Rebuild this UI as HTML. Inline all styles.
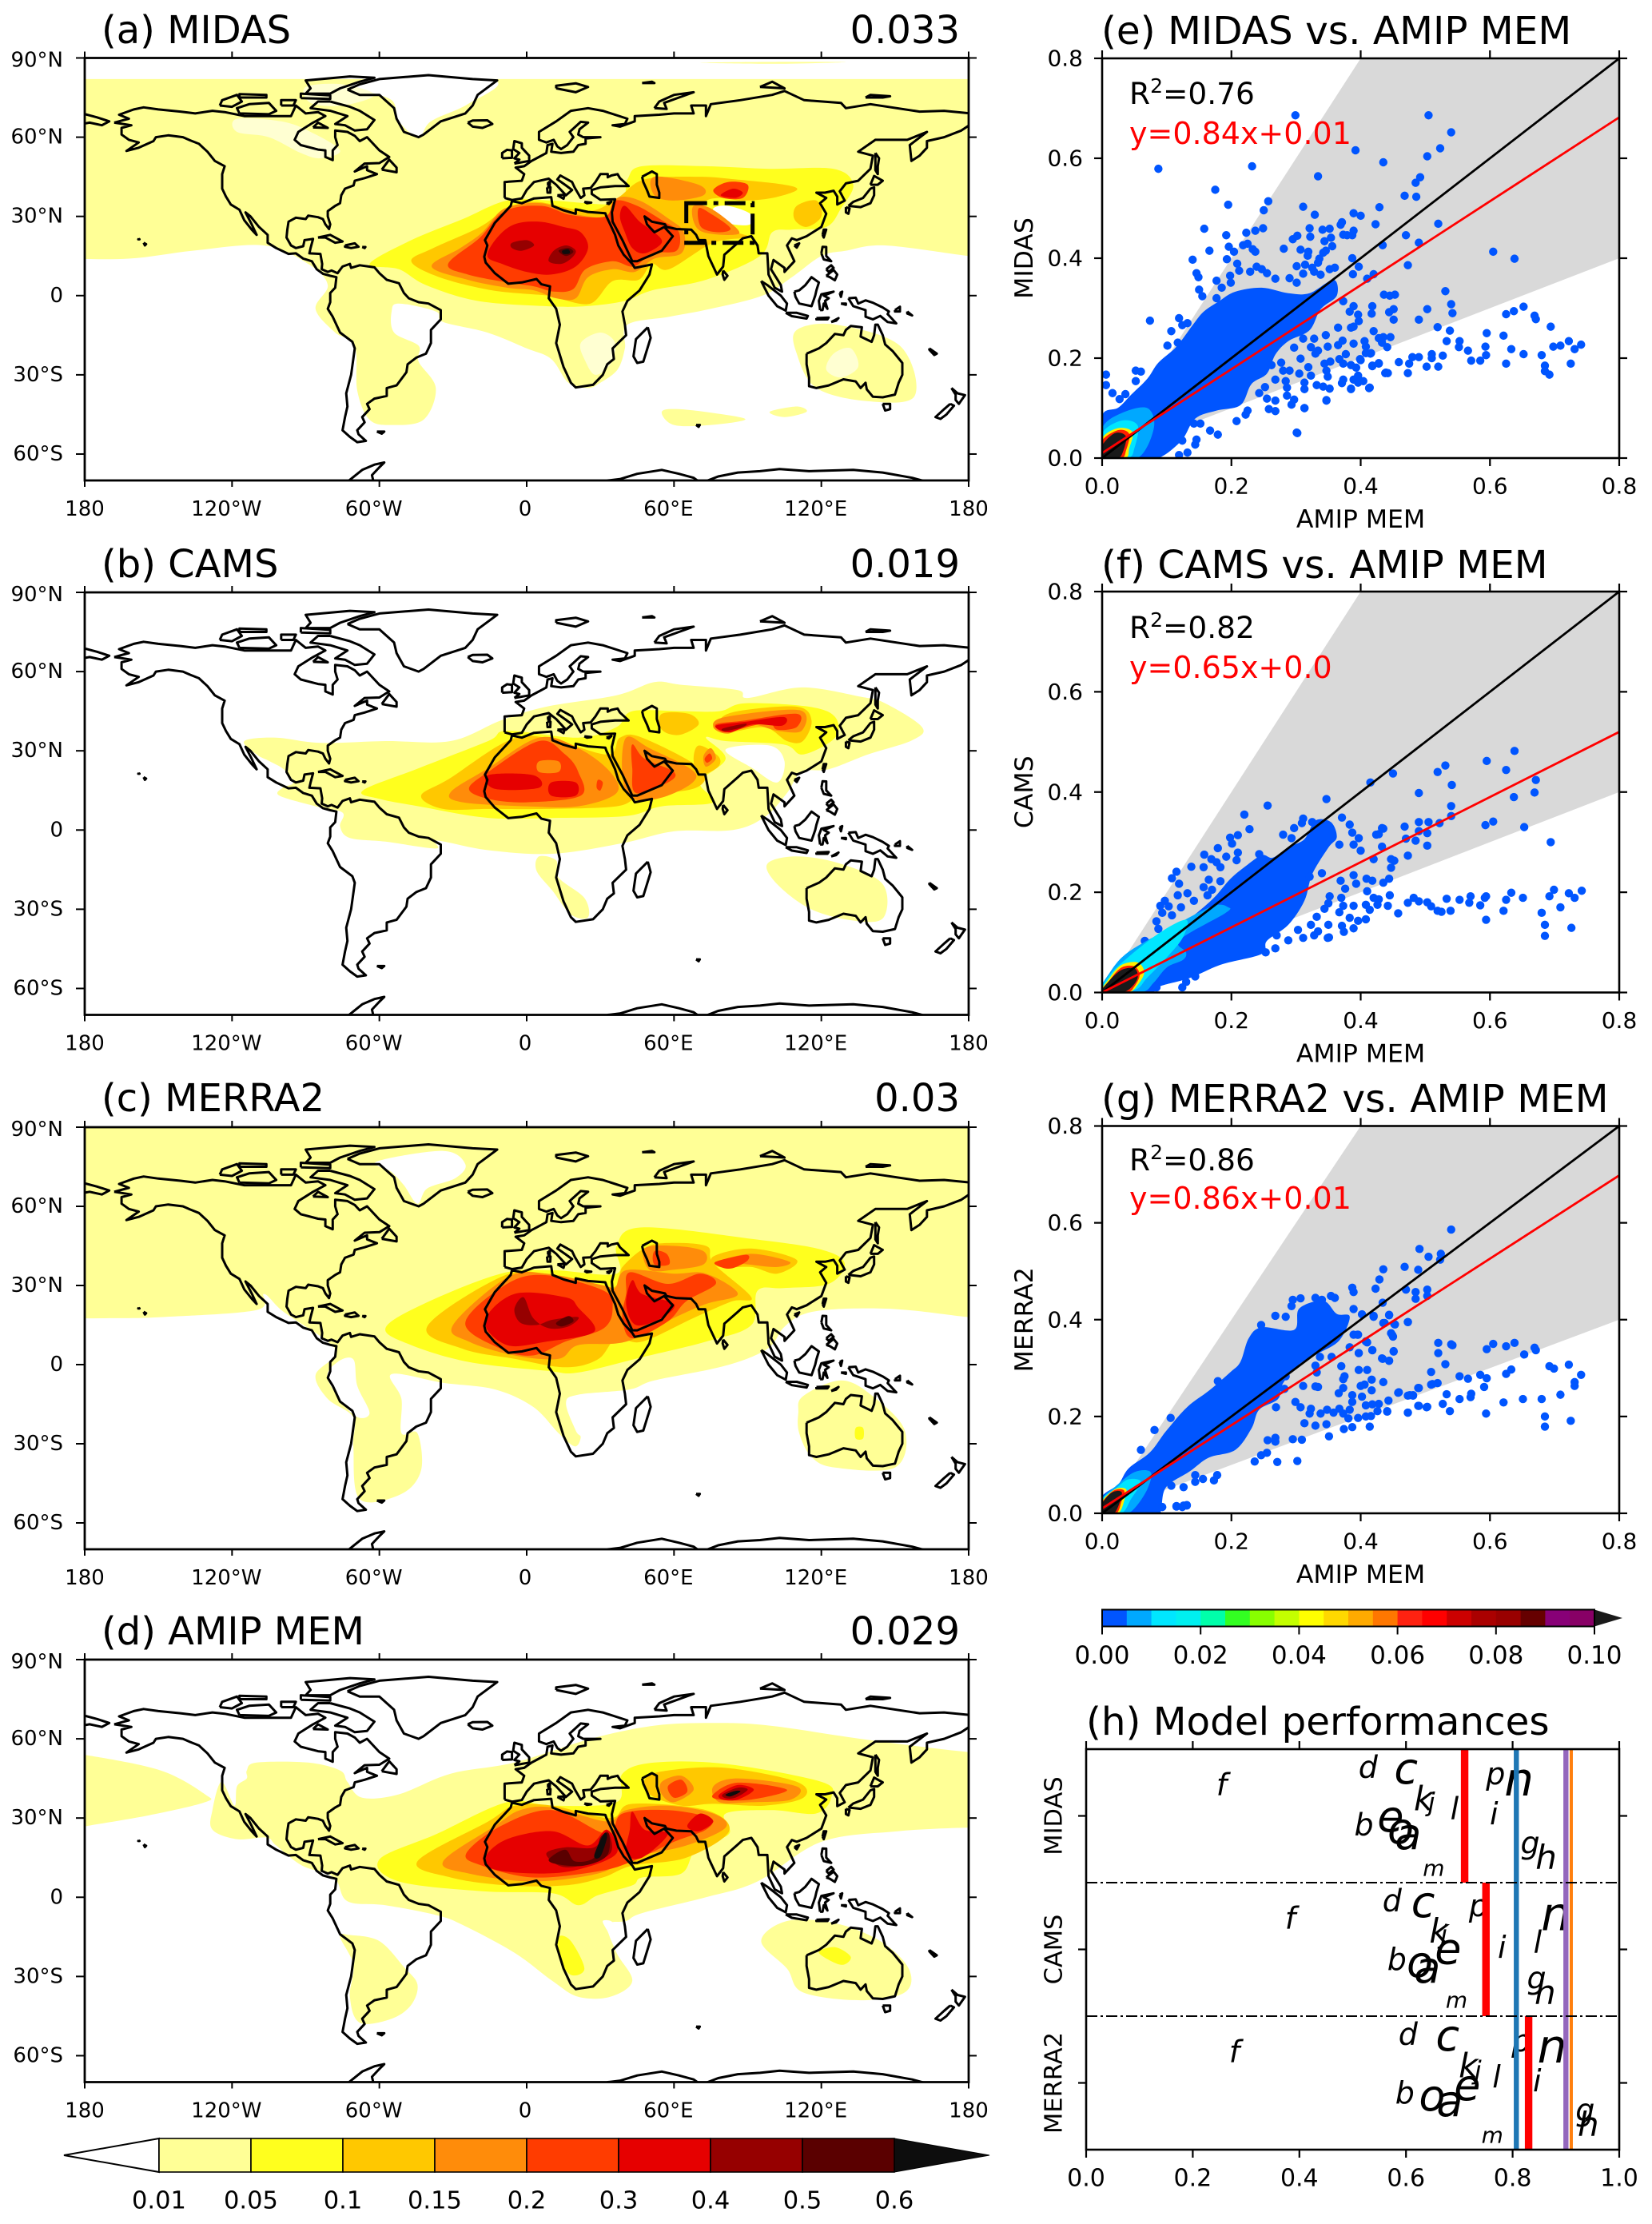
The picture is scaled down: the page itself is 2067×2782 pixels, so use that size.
<!DOCTYPE html>
<html lang="en">
<head>
<meta charset="utf-8">
<title>Dust optical depth maps and comparisons</title>
<style>
html,body{margin:0;padding:0;background:#fff}
svg{display:block}
text{font-family:"DejaVu Sans","Liberation Sans",sans-serif;fill:#000}
</style>
</head>
<body>
<svg id="fig" xmlns="http://www.w3.org/2000/svg" width="2067" height="2782" viewBox="0 0 2067 2782">
<defs id="defs"></defs>
<rect width="2067" height="2782" fill="#fff"/>
<g id="map-a"></g>
<g id="map-b"></g>
<g id="map-c"></g>
<g id="map-d"></g>
<g id="sc-e"></g>
<g id="sc-f"></g>
<g id="sc-g"></g>
<g id="cbar-main"></g>
<g id="cbar-den"></g>
<g id="perf"></g>

<text x="127" y="54" font-size="48">(a) MIDAS</text>
<text x="1201" y="54" font-size="48" text-anchor="end">0.033</text>
<text x="127" y="722" font-size="48">(b) CAMS</text>
<text x="1201" y="722" font-size="48" text-anchor="end">0.019</text>
<text x="127" y="1390" font-size="48">(c) MERRA2</text>
<text x="1201" y="1390" font-size="48" text-anchor="end">0.03</text>
<text x="127" y="2057" font-size="48">(d) AMIP MEM</text>
<text x="1201" y="2057" font-size="48" text-anchor="end">0.029</text>

<text x="1378" y="55" font-size="48.5">(e) MIDAS vs. AMIP MEM</text>
<text x="1378" y="723" font-size="48.5">(f) CAMS vs. AMIP MEM</text>
<text x="1378" y="1391" font-size="48.5">(g) MERRA2 vs. AMIP MEM</text>
<text x="1359" y="2170" font-size="48.4">(h) Model performances</text>

<text x="1413" y="130" font-size="37.5">R<tspan font-size="25" dy="-14">2</tspan><tspan dy="14">=0.76</tspan></text>
<text x="1413" y="180" font-size="38" style="fill:#ff0000">y=0.84x+0.01</text>
<text x="1413" y="798" font-size="37.5">R<tspan font-size="25" dy="-14">2</tspan><tspan dy="14">=0.82</tspan></text>
<text x="1413" y="848" font-size="38" style="fill:#ff0000">y=0.65x+0.0</text>
<text x="1413" y="1464" font-size="37.5">R<tspan font-size="25" dy="-14">2</tspan><tspan dy="14">=0.86</tspan></text>
<text x="1413" y="1512" font-size="38" style="fill:#ff0000">y=0.86x+0.01</text>
</svg>

<script>
/* ---------- shared map data (lon, lat) ---------- */
const levelColors = ['#ffff96','#ffff1e','#ffc800','#ff8c0a','#ff3c00','#e60000','#960000','#5a0000','#0d0d0d'];
const levelLabels = ['0.01','0.05','0.1','0.15','0.2','0.3','0.4','0.5','0.6'];
const lonTicks = [-180,-120,-60,0,60,120,180];
const lonTickLabels = ['180','120°W','60°W','0','60°E','120°E','180'];
const latTicks = [90,60,30,0,-30,-60];
const latTickLabels = ['90°N','60°N','30°N','0','30°S','60°S'];

const coastlines = [
/* Americas */
[[-168,65.5],[-164,66.5],[-162,67],[-166,68.5],[-160,70.5],[-156,71.3],[-150,70.5],[-141,69.7],[-135,69],[-128,70],[-123,69.5],[-115,68],[-108,68],[-100,68],[-96,68],[-94,72],[-90,69],[-85,69.5],[-82,68],[-87,65.5],[-93,62],[-94.5,59],[-92,57],[-85,55.3],[-82,55],[-82,52.5],[-79,51.3],[-79,55],[-77,57],[-78,60],[-78,62.5],[-73,62],[-70,60.5],[-68,58.5],[-65,60],[-62,57],[-60,55],[-56,52.5],[-60,50.2],[-66,50],[-70,47],[-65,49],[-65,47.5],[-61,46],[-66,44.5],[-70,43.5],[-70.5,41.7],[-74,40.5],[-75.5,38],[-76,35],[-78,34],[-81,32],[-81,30],[-80,27],[-80.5,25.2],[-82,27],[-83,29],[-85,29.7],[-89,30.3],[-90,29],[-94,29.5],[-97,28],[-97.5,25],[-97.8,22],[-96,19],[-94,18],[-91,18.7],[-90.5,21],[-87,21.5],[-88,18],[-88.5,16],[-84,15.8],[-83.3,12],[-83.5,10],[-81,9],[-79.5,9.5],[-77,8.5],[-75,11],[-72,12],[-71.5,10.5],[-68,11.5],[-62,10.7],[-60,8.5],[-57,6],[-52,4.7],[-50,1],[-48,-1],[-44,-2.5],[-40,-3],[-35,-5.5],[-35,-9],[-39,-13],[-39,-18],[-41,-22],[-45,-23.5],[-48.5,-26],[-49,-29],[-53,-34],[-57,-35],[-57,-38],[-62,-39],[-65,-41],[-64,-43],[-67,-46],[-66,-48],[-69,-51],[-68.5,-52.5],[-65.5,-55],[-69,-55.5],[-72,-53.5],[-75,-51],[-74,-46],[-73,-42],[-73.5,-37],[-71.5,-30],[-70,-20],[-71,-17.5],[-76,-14],[-79,-8],[-81,-5],[-80,-2.5],[-80,1],[-78,3],[-77.5,7],[-80,7.5],[-83,8.3],[-85.5,10],[-87.5,13],[-91,14],[-94,16],[-97,15.8],[-102,18],[-105.5,20],[-105.5,23],[-109,26],[-112.5,30],[-114.5,31.5],[-112,27],[-110,23],[-112,25],[-115,28.5],[-117,32.5],[-120.5,34.5],[-122.5,37.5],[-124,40.5],[-124,46],[-123,49],[-127,51],[-130,54.5],[-133.5,57.5],[-137,58.8],[-140,60],[-146,60.7],[-151,60],[-152,58.5],[-158,56],[-163,54.8],[-158,58],[-162,59],[-165,61],[-165,63.5],[-161,64.5],[-168,65.5]],
/* Africa */
[[-6,35.8],[-2,35],[3,36.8],[10,37.3],[10.5,34],[15,32.3],[20,31],[20,32.7],[25,31.7],[32,31.2],[32.5,30],[34,27],[36,23],[37.3,19],[39.5,15.5],[43,12],[44,10.5],[51,11.8],[50,8],[46,2],[41,-2],[39,-6],[40,-11],[40.5,-15],[35,-20],[35.5,-24],[32.8,-26],[31,-30],[27,-33.8],[20,-34.8],[18,-33],[15,-27],[12,-18],[13.5,-11],[12,-5],[9,-1],[9.5,3.5],[6,4.3],[4,6.3],[-2,5],[-7.5,4.5],[-13,8.5],[-16.7,12.5],[-17.3,14.7],[-16,19],[-17,21],[-13,27.5],[-9.5,31],[-6.5,34],[-6,35.8]],
/* Eurasia */
[[-9,37],[-9,43],[-2,43.5],[-1,46],[-4.5,48.5],[-1,49],[2,51],[4,52],[8,54],[8.5,57],[10.5,57.5],[10,54.5],[14,54],[19,54.5],[21,57],[24,57.5],[24,59.5],[30,60],[23,60],[21,61],[21.5,63],[25,65.5],[22,65.8],[17.5,62],[19,60],[16.5,57],[14,55.5],[12.5,56.5],[11,59],[8,58],[5,59],[5,62],[12,66],[18,70],[25,71],[31,70],[41,67],[40,65],[35,64.5],[38,64],[44,66],[44,68],[54,68.5],[60,69],[68,69],[67,72],[73,72],[73,68],[75,72.5],[87,74],[100,76],[105,77.5],[113,74],[128,73],[130,71],[140,72.5],[160,69.7],[170,70],[181,69]],
[[-181,69],[-175,67.5],[-170,66],[-173,64.5],[-178,65.5],[-181,65]],
[[181,65],[177,62.5],[170,60],[163,58.5],[163,56],[160,53],[156.7,51],[156,57],[163,62],[155,59],[142,59],[135,54.5],[141,53],[140,48],[135,43.5],[130,42.5],[127.5,39.5],[129.5,36],[126.5,34.5],[126.5,37.5],[125,39.7],[121.5,39],[118,39],[122,37],[119.5,35],[122,31],[120,26],[114,22.5],[110,21],[108,21.7],[106,19],[109,13],[105,9],[105,10.5],[100.5,13.5],[99.5,10],[103.5,4],[104,1.5],[101,3],[98.5,8],[98,16],[94.5,16],[94,19],[91.5,22.5],[88,21.7],[86,20],[80.5,15.5],[80,11],[77.5,8],[74,15],[72.7,21],[70,21],[69,23],[67,25],[61,25.2],[57,26],[56.3,27],[51,28],[48,30],[49,27],[51,25],[52,24],[56,26],[59.5,22.5],[55,17],[45,13],[43,13],[39,21],[35,28],[34.7,31.5],[36,36.5],[30,36.3],[26.5,38.5],[26.5,40],[30,41],[36,41.5],[41.5,41.5],[38,44.5],[37,46],[34.5,45.5],[33,44.8],[33,46],[30,46],[28,43],[26,40.7],[23,40.5],[23.5,38],[22,37],[19.5,41],[18.5,43],[13.7,45.5],[12.5,44],[16,41.7],[18.5,40],[16,38],[12,42],[9,44.3],[3,43],[0,40],[-2,36.8],[-6,36.2],[-9,37]],
/* islands, inland seas */
[[-80,73.5],[-72,71.5],[-68,70],[-62,66.5],[-65,63],[-70,62.5],[-74,64.5],[-78,65],[-73,68],[-80,70],[-88,71],[-85,73.5],[-80,73.5]],
[[-117,69],[-105,68.7],[-102,70],[-105,73],[-113,72.5],[-118,71],[-117,69]],
[[-125,72],[-120,71.5],[-116,73.5],[-118,76],[-124,74],[-125,72]],
[[-90,76.5],[-80,76.5],[-76,78.5],[-68,81],[-62,82.5],[-72,83],[-90,81.5],[-88,78.5],[-90,76.5]],
[[-92,74.8],[-80,74.5],[-80,75.8],[-92,76.5],[-92,74.8]],
[[-117,75],[-106,75],[-106,76],[-117,76.3],[-117,75]],
[[-100,72],[-95,72],[-94,74],[-100,74],[-100,72]],
[[-87,63.7],[-81,63.5],[-85,65.5],[-87,63.7]],
[[-59,47.7],[-53,46.7],[-53,48.5],[-56,51.5],[-59,47.7]],
[[-73,78],[-68,80],[-60,82],[-40,83.5],[-22,82],[-12,81.5],[-20,76],[-22,72],[-25,69],[-35,66],[-42,61],[-44,60],[-50,62],[-53,67],[-54,71],[-60,76],[-68,76],[-73,78]],
[[-24,65.5],[-22,64],[-18,63.5],[-14,65],[-16,66.4],[-22,66.3],[-24,65.5]],
[[-5,50],[1,51],[1,53],[-2,56],[-2,57.7],[-5,58.5],[-5.5,55.5],[-3,54],[-5,52],[-3,51.5],[-5,50]],
[[-10,52],[-6,52.2],[-6,55],[-8,55.2],[-10,54],[-10,52]],
[[12,78.5],[20,77],[25,79],[20,80.4],[12,79.5],[12,78.5]],
[[52,71],[57,70.7],[56,73],[62,75],[68,77],[60,76],[54,73.5],[52,71]],
[[95,79],[105,78.5],[100,81],[95,79]],
[[138,75],[145,75],[148,75.5],[140,76],[138,75]],
[[47,80.5],[52,80.5],[51,81],[47,80.5]],
[[142,54],[143.5,52],[143,49],[143,46],[142,47.5],[142,54]],
[[140,42],[141.5,45.3],[145,43.5],[143,42],[140,42]],
[[131,34],[136,33.5],[140,35],[141.5,38],[141.5,41],[140,40.5],[137,37],[133,35.5],[131,34]],
[[130,33.5],[131.5,33],[131,31],[130,31.5],[130,33.5]],
[[120.5,23],[121,25],[122,25],[121,22],[120.5,23]],
[[109,19],[111,19.8],[110,18.2],[109,19]],
[[120,16],[120.5,18.5],[122,18.4],[122,15],[124,13],[121,13.7],[120,16]],
[[122,7.5],[125,9.7],[126.5,8],[125.5,5.8],[123.5,7],[122,7.5]],
[[122,10],[124,11.5],[125,10.5],[123,9],[122,10]],
[[109,1.5],[111,2],[113.5,4],[116,7],[119,5],[118,2],[117.5,0],[116,-4],[111,-3],[109.5,-0.5],[109,1.5]],
[[95.5,5.5],[98,4],[103.5,0],[106,-3],[105.5,-5.7],[102,-4],[98.5,0],[95.5,5.5]],
[[105.5,-6.5],[110,-6.5],[114.5,-7.7],[114,-8.7],[108,-7.8],[105.5,-6.5]],
[[119.5,-5.5],[119,-2],[120,0.5],[125,1.5],[121,0],[123,-1],[121.5,-2],[122.5,-5],[121,-3],[120.5,-5.5],[119.5,-5.5]],
[[118,-8.5],[123,-8.3],[122.5,-9],[118,-9],[118,-8.5]],
[[124,-10],[127,-8.5],[126,-9.5],[124,-10]],
[[127.5,1],[128.5,1.5],[128,-0.5],[127.5,1]],
[[128,-3],[130,-3],[130,-3.5],[128,-3]],
[[131,-1],[134,-0.8],[135,-3],[138,-1.8],[141,-2.7],[145,-4.5],[147.5,-6],[147,-7],[150.5,-10.5],[147,-10],[144,-7.7],[141,-9],[138,-8],[138,-5.5],[133,-4],[132,-2.5],[131,-1]],
[[114,-22],[114,-26],[115,-31],[115,-34.3],[118,-35],[123,-34],[129,-31.7],[134,-32.5],[136,-35],[138,-33],[138.5,-35.5],[141,-38.3],[145,-38.5],[150,-37.5],[151.5,-33],[153,-30],[153,-25.5],[149,-21],[146,-18.5],[145,-15],[143,-11],[142,-11],[141.5,-15],[140.5,-17.5],[136,-15.5],[136.5,-12],[132,-11.5],[130,-13],[129,-15],[125.5,-14.5],[122,-18],[119,-20],[114,-22]],
[[145,-41],[148,-41],[148,-43],[146,-43.5],[145,-41]],
[[173,-35],[175.5,-37],[178.5,-37.7],[176,-41],[174.7,-39.5],[174.7,-37.5],[173,-35]],
[[172.5,-41],[174,-41.7],[171,-45],[168.5,-46.7],[166.5,-46],[170,-43],[172.5,-41]],
[[164,-20],[167,-22],[166,-22.5],[164,-20.5],[164,-20]],
[[150,-5.5],[152,-4.2],[152,-6],[150,-6],[150,-5.5]],
[[155,-6],[157,-7.5],[155,-6.8],[155,-6]],
[[80,9.5],[81.8,7.5],[80.5,6],[79.8,8],[80,9.5]],
[[49.3,-12],[50.5,-16],[47.5,-25],[45,-25.5],[43.5,-23],[44.5,-16.5],[49.3,-12]],
[[-156,20],[-155,19.5],[-155.5,19],[-156,20]],
[[-158,21.6],[-157.7,21.3],[-158.2,21.3],[-158,21.6]],
[[-85,22],[-80,23],[-75,20.5],[-78,20],[-82,22],[-85,22]],
[[-74,19],[-70,19.8],[-68.5,18.5],[-71.5,18],[-74,18.5],[-74,19]],
[[-67,18.4],[-65.7,18.4],[-66,18],[-67,18.4]],
[[-61,-51.5],[-58,-51.5],[-59,-52.3],[-61,-51.5]],
[[69,-49],[70.5,-49],[70,-49.7],[69,-49]],
[[12.5,38],[15.5,38.2],[15,36.7],[12.5,38]],
[[8.3,41],[9.7,41],[9.6,39],[8.5,39],[8.3,41]],
[[8.7,43],[9.5,43],[9.3,41.4],[8.7,42],[8.7,43]],
[[23.5,35.5],[26.3,35.2],[24.5,35],[23.5,35.5]],
[[32.5,35],[34.5,35.6],[33.5,34.7],[32.5,35]],
[[47,45],[51,47],[53,46],[53,42],[54,39],[54,37],[50,37.5],[49,40],[47.5,43],[47,45]],
[[-75,-72],[-71,-69],[-67,-66],[-62,-64],[-58,-63.2],[-60,-65],[-63,-68],[-62,-72]],
[[30,-72],[33,-70],[38,-69.5],[45,-67.5],[55,-66],[62,-67.5],[68,-69],[71,-71],[78,-68.5],[86,-67],[95,-66.5],[103,-65.7],[115,-66.5],[133,-66],[145,-67],[157,-69],[165,-71]]
];

/* contour bands: [level index, ring of lon/lat]; -1 is a gap, -2 a speckled gap */
const fieldMidas = [
[0,[[-200,82],[-190,82],[-60,82],[0,82],[60,82],[190,82],[200,82],[200,76],[200,20],[200,14.5],[190,14.8],[180,15],[146,19],[130,17],[120,15],[108,7],[96,0],[75,-5],[58,-8],[41,-11],[40,-20],[37,-28],[30,-33],[25,-35],[17,-33],[10,-24],[0,-20],[-16,-14],[-34,-10],[-37,-6],[-52,-3],[-55,-6],[-54,-14],[-44,-19],[-44,-25],[-37,-35],[-42,-47],[-55,-49],[-64,-47],[-69,-36],[-70,-19],[-78,-14],[-86,-5],[-81,4],[-89,12],[-107,19],[-136,17],[-162,14],[-190,14],[-200,14],[-200,20],[-200,76]]],
[0,[[110,-13],[126,-11],[152,-19],[158,-38],[139,-40],[118,-35],[110,-22]]],
[0,[[55,-44],[62,-43],[80,-45],[89,-47],[75,-49],[60,-49]]],
[0,[[99,-44],[110,-42],[114,-44],[105,-46]]],
[0,[[70,88.2],[100,88.5],[130,88.4],[100,87.8]]],
[-1,[[-72,80],[-58,82.4],[-13,81.4],[-24,72.5],[-39,66],[-44,60],[-52,66],[-55,74],[-68,78]]],
[-2,[[-118,67],[-100,66],[-88,62],[-76,55],[-84,52],[-92,54],[-105,60],[-118,62]]],
[-2,[[-90,79],[-75,80],[-62,76],[-75,72],[-88,73]]],
[-2,[[22,-18],[30,-14],[36,-18],[34,-26],[28,-30],[24,-25]]],
[-2,[[125,-22],[132,-20],[135,-27],[128,-31],[122,-28]]],
[1,[[-64,12],[-47,21],[-26,29],[-8,36],[10,36],[37,35],[41,44],[47,49],[73,49],[99,48],[125,48],[133,42],[128,33],[122,26],[108,25],[100,24],[95,15],[73,6],[51,2],[40,-2],[24,-4],[8,-4],[-20,-2],[-41,4],[-52,10]]],
[2,[[-47,13],[-38,18],[-19,26],[-8,33],[4,35.5],[25,32],[37,37],[48,44],[70,45],[85,44],[105,42],[110,40],[100,37],[88,36],[78,37],[72,35],[70,28],[85,24],[90,22],[76,20],[58,10],[51,12],[45.6,6],[35,5.5],[26,-3],[13,-1],[9,0],[-14,2],[-35.6,7]]],
[2,[[110,34],[118,36],[120,30],[114,26],[109,29]]],
[-1,[[76,33],[82,34],[91,31],[91,27],[84,27],[78,29]]],
[3,[[-38.7,11],[-27,18],[-18,24],[-9,33],[6,35],[19,31],[32,30],[37,37],[46,36],[58,29],[64,24],[63,16],[52,14],[44,9],[35,10],[25,7],[20,-1],[12,-1],[3,2],[-8,3],[-24,6]]],
[3,[[68,34],[75,33],[86,25],[84,23],[72,24],[68,28]]],
[3,[[52,45],[70,42],[72,38],[60,36],[52,38]]],
[4,[[-32,12],[-19,22],[-9,32],[6,34],[18,30.5],[32,30],[36,36],[45,34],[56,28],[62,24],[61,17],[51,16],[43.6,11],[35,13],[24,10],[19,2.5],[11,1.5],[3,3.5],[-8,5],[-24,8]]],
[4,[[70,33],[75,31],[83,25.5],[78,24],[71,26]]],
[4,[[76,40],[82,43],[90,42],[88,37],[80,37]]],
[5,[[-12,22],[-5,27],[5,28],[15,26],[22,24],[25,18],[20,11],[10,8],[0,9],[-10,12],[-16,15]]],
[5,[[40,34],[46,28],[52,24],[55,20],[48,16],[43,18],[40,24],[38,30]]],
[5,[[79,38],[84,40.5],[88,39],[85,37]]],
[6,[[-6,20],[0,21],[3,19],[-2,17],[-6,18]]],
[6,[[11,17],[16,19],[20,17],[18,14],[14,12],[9,13]]],
[7,[[13,17],[17,18],[19,16.5],[16,15]]],
[8,[[14.5,17],[17,17.5],[17.5,16],[15,15.8]]]
];
const fieldCams = [
[0,[[-115,33.7],[-102,35],[-84,33],[-57.5,33.7],[-31,33.7],[-10.5,41.5],[8,46.7],[36.6,51],[52,56],[63,55],[86,53],[90,50],[112,54],[136,50.5],[146,48],[161,39],[157,34],[139,28.6],[123,23],[112,22],[106,14],[97,5],[84,0],[60,-0.5],[39,-5],[10.5,-9],[-16,-7.6],[-36.6,-4],[-37,-7],[-57.5,-4.4],[-72,-3],[-76,1.4],[-75,6.6],[-86,9],[-100.7,13],[-99.4,16],[-95,18],[-99,23],[-104.6,26],[-110,28.6]]],
[0,[[98,-12.8],[110,-10],[128,-12.8],[145,-20.5],[145,-33.5],[131,-34],[115,-29.6],[102,-20.5]]],
[0,[[5,-10],[12,-11.5],[13,-18],[23.5,-25.7],[25,-33],[18,-32],[10.5,-23],[4,-15.4]]],
[-1,[[81,30.5],[99,32],[105,26],[102,18],[92,23.4]]],
[1,[[-66.7,15],[-44,23.4],[-15.7,33.7],[-7.8,37.6],[21,35],[36.6,39],[43,45],[63,45],[78.5,45],[89,48],[115,46.7],[125.6,42.8],[125.6,35],[112.5,28.6],[104.6,32.4],[81,33.7],[73,35],[81,27],[70.6,18],[76,10.5],[55,9],[40.5,5.3],[10.5,4.6],[-15.7,4.6],[-44,9],[-60,11.8]]],
[2,[[-43,13],[-31.4,19.5],[-7.8,33.7],[8,35],[32.7,28.6],[38,35],[47,35],[70.6,23.4],[69,16],[47,13],[36.6,9],[8,8],[-15.7,8],[-34,8]]],
[2,[[78.5,41.5],[86,45],[110,46.7],[116,41.5],[112.5,33.7],[106,33.7],[96.8,38.9],[81,37]]],
[2,[[55,44],[66,44],[70,40],[62,36],[55,38]]],
[2,[[70,32],[78,28],[78,24],[71,21],[68,26]]],
[3,[[-31,14.3],[-15.7,23.4],[5,35],[21,31],[34,22],[36.6,14],[21,9],[0,9],[-26,10.5]]],
[3,[[40.5,35],[50,31],[69,21],[57.5,13],[43,11.8],[39,21]]],
[3,[[76,39],[81,42.8],[111,45.4],[112,37.6],[102,37.6],[91.5,40],[82,36.5]]],
[3,[[72,28],[75,31],[77,27],[73,24]]],
[4,[[-23.5,15.6],[-15.7,22],[5,33.7],[15.7,28.6],[21,22],[22,13],[0,10.5],[-15.7,11.8]]],
[4,[[43,32.4],[48,27],[60,22],[57.5,18],[44.5,14],[43,23.4]]],
[4,[[77,40],[89,41.5],[110,44],[110,39],[102,38],[99,40.8],[92,39.5],[81,37]]],
[4,[[72.5,27],[74.5,29],[75.5,27],[73.5,25.5]]],
[3,[[5,26],[13,26],[13,22],[5,22]]],
[4,[[29,19],[31,18],[30,15],[28.5,16]]],
[5,[[-15.7,20.8],[2.6,20.8],[5,16],[-13,15.6]]],
[5,[[10,18],[20,18],[20,13],[10,13]]],
[5,[[77,39.5],[89,41],[104.6,42.8],[104,39.5],[92,40],[82.4,37]]],
[6,[[80,38.5],[89,40.3],[88,39],[81,37.5]]]
];
const fieldMerra = [
[0,[[-200,100],[200,100],[200,24],[200,17.5],[190,17.8],[180,18],[151,21],[125.6,21],[112.5,19],[104.6,14],[98,6],[81,-0.4],[52,-6],[42,-9.4],[21,-11.4],[16,-14.6],[20,-25],[22,-27.5],[19.6,-31],[13,-26],[2.6,-16],[-13,-9.4],[-34,-6.9],[-55,-3.6],[-51,-13],[-51,-26],[-44.5,-26],[-43,-40],[-51,-49],[-68,-51],[-70.6,-31],[-70.6,-20],[-81,-13],[-86,-4],[-78,3.5],[-81,8.7],[-99,20],[-107,26.8],[-110,20.7],[-149,18],[-170,17.6],[-190,17.5],[-200,17.5],[-200,24]]],
[0,[[110.6,-18.5],[112.5,-12],[128,-6],[141,-12],[154,-25],[150,-39],[125.6,-39],[116,-35],[111,-26]]],
[-1,[[-61,77],[-34,81],[-25,76],[-29,70.7],[-40.5,66.8],[-44.5,61],[-50,68],[-55,73]]],
[-1,[[-77,1],[-70.6,2],[-69,-8],[-64,-18.5],[-70.6,-19],[-81,-5.5]]],
[1,[[134,-24],[137,-24],[137,-28],[134,-28]]],
[1,[[-57.5,13.8],[-42,23],[-10.5,34.5],[10.5,35.8],[36.6,34.5],[36.6,44.9],[47,52],[94,47.4],[120,43.6],[129.5,38.4],[123,30.6],[104.6,29],[94,28],[91.5,15],[73,8.7],[47,2.8],[21,-3],[8,-2.3],[-23.5,1],[-47,7.4]]],
[2,[[-40.5,14.5],[-10.5,33.2],[8,34.5],[34,29],[39,37],[47,43.6],[55,46],[73,45],[76,38.4],[91.5,25.5],[83.7,24],[68,17.7],[47,8.7],[36.6,10],[29,2],[15.7,-1],[-5,2.2],[-26,6]]],
[2,[[76,41],[91.5,44],[110,39.7],[102,34.5],[91.5,37],[78.5,37]]],
[3,[[-30,15],[-8,33],[8,34.5],[31.4,30],[36,29],[40.5,35.8],[60,34.5],[73,34.5],[86,26.8],[73,23],[60,17.7],[40.5,8.7],[21,7.4],[13,2.2],[-5,3.5],[-23.5,8.7]]],
[3,[[48,44],[60,45],[72,43],[72,38],[60,36],[50,36]]],
[3,[[79,39],[91.5,42],[107,39],[102,37],[90,38]]],
[4,[[-25,15.8],[-8,30.6],[8,33.9],[31.4,28],[35,21.6],[31.4,13.8],[15.7,8.7],[2.6,3.5],[-10.5,6]]],
[4,[[42,35],[57.5,30.6],[70.6,34.5],[77,30.6],[65,24],[57.5,16.4],[43,10],[39,17.7],[40.5,26.8]]],
[4,[[77,39],[89,41.6],[90,39.5],[83.7,36.5],[79,37]]],
[4,[[52,43],[57,42],[58,38],[52,38]]],
[5,[[-17,16.4],[-5,26.8],[15.7,25.5],[21,21.6],[27.5,12.5],[8,8.7],[-8,7.4]]],
[5,[[43,32],[47,26.8],[60,23],[55,17.7],[44.5,15],[40.5,23]]],
[6,[[-5,21],[-1.3,25.5],[2.6,17.7],[9,13.8],[17,14.5],[21,18],[10.5,17],[4,15],[-2.6,15.9]]],
[7,[[12,15.8],[17,18.4],[19,16.4],[14.4,14.5]]]
];
const fieldAmip = [
[0,[[-200,55],[-190,54.5],[-179,53.8],[-149,48],[-131,39],[-131,36],[-154,31],[-179,27],[-190,25],[-200,24],[-200,30],[-200,50]]],
[0,[[200,56],[190,55.5],[180,55],[139,59.6],[99,65],[76,66],[52,65],[26,60],[-5,51],[-31,46.8],[-52,39],[-67,37.7],[-73,43.7],[-76,48],[-89,51],[-110,51],[-114,48],[-114,45],[-118,42],[-119,34.7],[-124.3,43.7],[-128,33],[-128,25.6],[-118,22],[-106,22.6],[-102,19.6],[-91.5,12],[-78.5,7.5],[-73,-1.5],[-57.5,-3],[-36.6,-6.8],[-26,-10.5],[-5,-21],[10.5,-31.7],[21,-37.7],[34,-37.7],[43,-31.7],[36.6,-21],[33,-10.5],[40.5,-9],[47,-6],[73,0],[94,6],[120,21],[151,25],[180,26.4],[190,26.2],[200,26],[200,30],[200,50]]],
[-1,[[31,-9],[35,-9.5],[37,-15],[35,-17],[33,-13]]],
[0,[[-76,-15],[-72,-14.3],[-60,-16.6],[-50,-26.4],[-44.5,-33],[-47,-40.7],[-55,-46],[-68,-47.5],[-72,-37.7],[-70.6,-25.6]]],
[0,[[95.5,-16.6],[106,-9],[125.6,-9.8],[144,-16.6],[155.6,-27],[154,-36],[136,-39],[112.5,-36],[106,-27]]],
[1,[[119,-21],[125.6,-18.9],[132,-22.6],[128,-25.6]]],
[1,[[13,-15],[18,-16.6],[23.5,-27],[18,-29.4],[13,-22.6]]],
[1,[[-60,14.3],[-36.6,24],[-8,36],[10.5,34.7],[36.6,36],[39,46.8],[52,51],[81,50.5],[120,43.7],[124,37.7],[117.7,31.7],[100,33],[81,31.7],[82.4,24],[69,18],[63,9],[47,7.5],[43,4.5],[29,0.75],[21,-3],[10.5,1.5],[-18,2.3],[-52,6]]],
[2,[[-44.5,13.6],[-15.7,28.7],[-5,34.7],[10.5,34.7],[34,30],[43,35.4],[73,33],[82.4,25],[65,15],[43,12],[31,7.5],[15.7,4.5],[-8,4.5],[-31,7.5]]],
[2,[[48.4,45],[57.5,48],[81,49],[110,43.7],[112.7,37.7],[96.8,34.7],[76,35.4],[63,34.7],[50,39]]],
[3,[[-34,13.6],[-13,27],[-2.6,33],[10.5,34],[32.7,28.7],[40.5,33],[57.5,34.7],[76,31.7],[81,26.4],[65,19.6],[43,15],[29,9],[2.6,6],[-23.5,9]]],
[3,[[55,43.7],[63,46],[68,40.7],[60,36],[55,39]]],
[3,[[76,42],[86,45],[110,42],[107.6,37],[91.5,36],[78.5,36]]],
[4,[[-24.6,16.6],[-10.5,27],[10.5,33],[32.7,24],[39,31.7],[57.5,33],[74.5,30],[73,25.6],[60,21],[43,13.6],[29,9.8],[2.6,7.5],[-18.3,12]]],
[4,[[57.5,42],[63,44.5],[65.4,40],[60,37.7]]],
[4,[[76,39],[86,43.4],[106,40.7],[91.5,37],[78.5,37]]],
[5,[[-17,15],[-8,22],[10.5,25],[24.8,19.6],[32.7,25.6],[36.6,16.6],[21,10.5],[5,9],[-13,10.5]]],
[5,[[43,32.4],[48,25.6],[57.5,24],[47,15],[40.5,16.6],[42,25.6]]],
[5,[[70.6,31.7],[76,28.7],[70,25],[65.4,27]]],
[5,[[78.5,39],[86,42.5],[92.5,40.7],[86,37],[79.8,37]]],
[6,[[8,16.6],[15.7,18.9],[27.5,18.9],[32.7,25],[34,16.6],[21,11.8],[13,12]]],
[6,[[79.8,39],[86,41.5],[90,40.7],[85,37.7],[81,37.5]]],
[7,[[9,14.3],[15.7,18],[19.6,13.6],[27.5,15],[30,22.6],[33.5,24],[32.7,15.8],[23.5,12],[13,12.4]]],
[8,[[27.5,15.8],[31.4,24],[32.7,22.6],[30,15.4]]],
[8,[[81,38.9],[85,40.3],[87,40],[83,38.2]]]
];
const studyRegion = [65,92,20,35];

/* ---------- scatter data (AMIP MEM, reanalysis) ---------- */
const axisTicks = [0,0.2,0.4,0.6,0.8];
const axisTickLabels = ['0.0','0.2','0.4','0.6','0.8'];
const regressionE = [0.84,0.01];
const regressionF = [0.65,0.0];
const regressionG = [0.86,0.01];
const kdeColors = ['#00a8ff','#00e6ff','#ffee00','#ff2000','#1a1a1a'];

const cloudE = [[0,0],[0,0.085],[0.025,0.101],[0.045,0.127],[0.07,0.159],[0.087,0.191],[0.115,0.223],[0.14,0.266],[0.157,0.293],[0.181,0.314],[0.206,0.333],[0.247,0.341],[0.288,0.33],[0.321,0.33],[0.358,0.357],[0.363,0.325],[0.338,0.298],[0.321,0.256],[0.288,0.234],[0.268,0.207],[0.255,0.169],[0.231,0.148],[0.214,0.106],[0.177,0.095],[0.144,0.079],[0.124,0.037],[0.095,0.005],[0.074,0]];
const cloudF = [[0,0],[0.016,0.029],[0.054,0.082],[0.082,0.104],[0.111,0.125],[0.14,0.152],[0.173,0.189],[0.198,0.226],[0.222,0.252],[0.247,0.274],[0.264,0.269],[0.288,0.29],[0.313,0.306],[0.33,0.343],[0.354,0.34],[0.363,0.31],[0.35,0.289],[0.325,0.236],[0.313,0.183],[0.288,0.135],[0.255,0.103],[0.247,0.077],[0.185,0.056],[0.136,0.029],[0.091,0.013],[0.074,0]];
const cloudG = [[0,0],[0,0.035],[0.025,0.06],[0.041,0.093],[0.074,0.126],[0.099,0.17],[0.132,0.22],[0.165,0.253],[0.198,0.291],[0.214,0.313],[0.227,0.362],[0.247,0.384],[0.297,0.379],[0.305,0.423],[0.342,0.439],[0.363,0.412],[0.383,0.406],[0.367,0.357],[0.334,0.33],[0.305,0.308],[0.28,0.269],[0.272,0.236],[0.243,0.214],[0.231,0.175],[0.206,0.131],[0.165,0.115],[0.136,0.087],[0.099,0.054],[0.091,0.01],[0.082,0]];

const pointsE = [[0.087,0.579],[0.232,0.584],[0.299,0.686],[0.505,0.686],[0.54,0.652],[0.523,0.62],[0.503,0.604],[0.392,0.616],[0.435,0.592],[0.334,0.564],[0.492,0.562],[0.485,0.551],[0.468,0.525],[0.486,0.523],[0.175,0.537],[0.195,0.507],[0.257,0.514],[0.25,0.496],[0.311,0.503],[0.329,0.487],[0.389,0.49],[0.4,0.485],[0.429,0.502],[0.423,0.468],[0.52,0.469],[0.47,0.446],[0.49,0.431],[0.434,0.426],[0.605,0.413],[0.638,0.399],[0.473,0.386],[0.158,0.459],[0.223,0.451],[0.249,0.46],[0.237,0.455],[0.192,0.446],[0.166,0.415],[0.14,0.397],[0.074,0.275],
[0.531,0.334],[0.503,0.298],[0.54,0.308],[0.542,0.29],[0.49,0.277],[0.519,0.262],[0.538,0.255],[0.533,0.234],[0.553,0.234],[0.552,0.222],[0.566,0.215],[0.571,0.195],[0.595,0.25],[0.593,0.223],[0.594,0.206],[0.585,0.195],[0.625,0.288],[0.637,0.294],[0.652,0.303],[0.621,0.245],[0.633,0.218],[0.625,0.189],[0.652,0.208],[0.669,0.285],[0.671,0.278],[0.694,0.263],[0.698,0.223],[0.709,0.225],[0.722,0.234],[0.731,0.218],[0.741,0.227],[0.725,0.189],[0.68,0.206],[0.685,0.185],[0.685,0.174],[0.692,0.167],[0.502,0.183],[0.51,0.208],[0.51,0.2],[0.52,0.183],[0.527,0.205],[0.49,0.202],[0.48,0.202],[0.475,0.189],[0.473,0.17],[0.459,0.192],[0.439,0.171],[0.428,0.19],[0.418,0.185],[0.413,0.14],[0.385,0.139],[0.347,0.116],[0.313,0.1],[0.301,0.051],[0.415,0.209],[0.4,0.196],[0.428,0.24],
[0.196,0.423],[0.204,0.413],[0.193,0.398],[0.218,0.426],[0.225,0.429],[0.233,0.418],[0.237,0.413],[0.281,0.419],[0.295,0.438],[0.302,0.445],[0.321,0.46],[0.322,0.443],[0.341,0.457],[0.352,0.459],[0.354,0.441],[0.344,0.434],[0.371,0.472],[0.369,0.467],[0.373,0.447],[0.379,0.446],[0.387,0.446],[0.389,0.455],
[0.356,0.424],[0.346,0.415],[0.342,0.411],[0.307,0.417],[0.319,0.413],[0.318,0.405],[0.336,0.399],[0.334,0.391],[0.301,0.384],[0.314,0.387],[0.325,0.381],[0.328,0.373],[0.311,0.369],[0.209,0.389],[0.212,0.375],[0.229,0.373],[0.239,0.383],[0.247,0.378],[0.255,0.37],[0.146,0.37],[0.149,0.362],[0.177,0.355],[0.198,0.365],[0.199,0.351],[0.185,0.341],[0.15,0.337],[0.155,0.324],[0.177,0.32],[0.268,0.359],[0.29,0.36],[0.301,0.351],[0.338,0.367],[0.352,0.378],[0.36,0.381],[0.387,0.4],[0.397,0.383],[0.388,0.368],[0.41,0.359],[0.42,0.368],[0.119,0.28],[0.107,0.254],[0.124,0.266],[0.132,0.27],[0.101,0.225],[0.117,0.231],[0.052,0.175],[0.06,0.173],[0.052,0.154],[0.006,0.167],[0.006,0.146],[0.016,0.13],[0.027,0.118],[0.036,0.128],
[0.373,0.314],[0.389,0.304],[0.418,0.304],[0.417,0.289],[0.436,0.327],[0.445,0.325],[0.453,0.327],[0.451,0.298],[0.444,0.292],[0.451,0.277],[0.42,0.254],[0.396,0.287],[0.397,0.274],[0.383,0.293],[0.385,0.261],[0.365,0.261],[0.389,0.263],[0.435,0.242],[0.446,0.242],[0.433,0.231],[0.441,0.222],[0.346,0.246],[0.311,0.239],[0.328,0.239],[0.389,0.229],[0.406,0.234],[0.408,0.223],[0.416,0.21],[0.408,0.21],[0.365,0.226],[0.372,0.235],[0.349,0.223],[0.323,0.222],[0.334,0.215],[0.33,0.209],[0.297,0.221],[0.307,0.199],[0.377,0.208],[0.399,0.198],[0.367,0.198],[0.373,0.189],[0.353,0.193],[0.344,0.189],[0.319,0.182],[0.385,0.186],[0.393,0.181],[0.418,0.184],[0.428,0.189],[0.438,0.17],[0.442,0.17],[0.347,0.175],[0.349,0.163],[0.396,0.165],[0.404,0.154],[0.389,0.157],[0.396,0.151],[0.373,0.157],[0.371,0.15],[0.414,0.141],[0.385,0.138],[0.352,0.139],[0.342,0.143],[0.332,0.146],[0.323,0.165],[0.313,0.151],[0.313,0.138],[0.305,0.169],[0.29,0.175],[0.28,0.175],[0.277,0.191],[0.262,0.186],[0.268,0.157],[0.284,0.154],[0.286,0.141],[0.252,0.142],[0.243,0.13],[0.255,0.119],[0.268,0.115],[0.347,0.115],[0.297,0.117],[0.293,0.107],[0.313,0.1],[0.286,0.125],[0.258,0.098],[0.268,0.094],[0.225,0.095],[0.222,0.087],[0.208,0.074],[0.302,0.05],[0.179,0.047],[0.167,0.055],[0.142,0.069],[0.152,0.069],[0.146,0.037],[0.144,0.027],[0.124,0.035],[0.132,0.011],[0.119,0.006]];

const pointsF = [[0.638,0.482],[0.595,0.462],[0.625,0.444],[0.531,0.453],[0.519,0.44],[0.45,0.437],[0.415,0.419],[0.541,0.414],[0.671,0.424],[0.669,0.399],[0.49,0.398],[0.637,0.39],[0.347,0.386],[0.256,0.373],[0.22,0.355],[0.54,0.372],[0.54,0.352],[0.593,0.334],[0.605,0.341],[0.653,0.33],[0.694,0.3],[0.468,0.331],[0.49,0.34],[0.505,0.34],[0.522,0.338],[0.503,0.318],[0.49,0.322],[0.503,0.293],[0.485,0.303],[0.47,0.307],[0.473,0.273],[0.435,0.327],[0.428,0.316],
[0.742,0.203],[0.722,0.198],[0.699,0.205],[0.692,0.192],[0.731,0.189],[0.709,0.17],[0.726,0.129],[0.685,0.135],[0.685,0.113],[0.68,0.159],[0.651,0.189],[0.633,0.199],[0.625,0.185],[0.621,0.163],[0.592,0.189],[0.594,0.192],[0.594,0.145],[0.585,0.174],[0.568,0.179],[0.57,0.192],[0.553,0.185],[0.533,0.187],[0.539,0.163],[0.519,0.163],[0.525,0.161],[0.509,0.172],[0.503,0.18],[0.49,0.182],[0.482,0.189],[0.473,0.179],[0.458,0.158],
[0.228,0.326],[0.198,0.309],[0.21,0.314],[0.201,0.297],[0.179,0.288],[0.158,0.275],[0.21,0.279],[0.192,0.271],[0.208,0.264],[0.169,0.266],[0.177,0.26],[0.183,0.25],[0.138,0.251],[0.157,0.25],[0.115,0.241],[0.108,0.228],[0.119,0.217],[0.165,0.225],[0.183,0.222],[0.157,0.21],[0.17,0.205],[0.163,0.194],[0.132,0.198],[0.117,0.194],[0.097,0.183],[0.09,0.173],[0.103,0.172],[0.122,0.17],[0.142,0.183],[0.093,0.159],[0.108,0.154],[0.084,0.142],[0.087,0.127],[0.066,0.103],[0.243,0.276],[0.28,0.315],[0.293,0.308],[0.297,0.328],[0.309,0.338],[0.311,0.347],[0.325,0.34],[0.371,0.349],[0.383,0.335],[0.387,0.319],[0.397,0.308],[0.389,0.295],[0.4,0.283],[0.367,0.295],[0.433,0.328],[0.424,0.315],[0.433,0.291],[0.447,0.266],[0.452,0.263],[0.42,0.266],[0.447,0.249],[0.444,0.227],[0.435,0.219],[0.418,0.223],[0.409,0.227],[0.389,0.234],[0.393,0.217],[0.369,0.223],[0.376,0.207],[0.41,0.202],[0.42,0.189],[0.428,0.186],[0.445,0.194],[0.442,0.173],[0.426,0.175],[0.408,0.175],[0.414,0.165],[0.389,0.173],[0.373,0.173],[0.367,0.16],[0.408,0.146],[0.396,0.143],[0.389,0.128],[0.383,0.149],[0.352,0.192],[0.35,0.178],[0.37,0.189],[0.344,0.167],[0.332,0.151],[0.35,0.135],[0.371,0.133],[0.374,0.121],[0.351,0.11],[0.334,0.122],[0.323,0.135],[0.328,0.114],[0.311,0.109],[0.303,0.125],[0.288,0.104],[0.27,0.114],[0.268,0.088],[0.253,0.08],[0.124,0.01],[0.084,0.01],[0.13,0.021],[0.144,0.032],[0.321,0.231],[0.34,0.238],[0.313,0.219],[0.349,0.109]];

const pointsG = [[0.54,0.586],[0.491,0.546],[0.505,0.53],[0.524,0.536],[0.523,0.524],[0.468,0.509],[0.489,0.503],[0.435,0.504],[0.429,0.483],[0.423,0.464],[0.387,0.466],[0.389,0.457],[0.47,0.462],[0.485,0.457],[0.503,0.462],[0.485,0.443],[0.503,0.449],[0.434,0.435],[0.42,0.408],[0.444,0.41],[0.473,0.395],[0.435,0.393],[0.452,0.391],[0.447,0.372],[0.45,0.365],[0.395,0.369],[0.408,0.355],[0.418,0.337],[0.397,0.331],[0.451,0.335],[0.434,0.319],[0.444,0.315],
[0.52,0.352],[0.542,0.347],[0.54,0.349],[0.52,0.331],[0.531,0.308],[0.595,0.339],[0.605,0.35],[0.625,0.345],[0.638,0.352],[0.653,0.328],[0.669,0.342],[0.671,0.337],[0.692,0.304],[0.699,0.299],[0.722,0.307],[0.741,0.286],[0.731,0.271],[0.731,0.263],[0.709,0.245],[0.68,0.236],[0.651,0.236],[0.621,0.229],[0.633,0.297],[0.625,0.288],[0.595,0.279],[0.591,0.261],[0.585,0.286],[0.566,0.278],[0.553,0.283],[0.509,0.292],[0.519,0.269],[0.509,0.266],[0.49,0.259],[0.481,0.243],[0.473,0.243],[0.458,0.249],[0.533,0.246],[0.527,0.226],[0.553,0.236],[0.57,0.24],[0.571,0.247],[0.49,0.222],[0.503,0.22],[0.538,0.211],[0.473,0.208],[0.594,0.206],[0.685,0.2],[0.685,0.179],[0.725,0.191],[0.441,0.21],[0.115,0.014],[0.126,0.016],[0.131,0.016],
[0.081,0.172],[0.06,0.131],[0.179,0.273],[0.106,0.197],[0.246,0.389],[0.268,0.408],[0.284,0.406],[0.295,0.441],[0.307,0.444],[0.33,0.445],[0.34,0.441],[0.354,0.449],[0.36,0.445],[0.293,0.428],[0.389,0.422],[0.402,0.411],[0.383,0.343],[0.397,0.331],[0.389,0.369],[0.396,0.369],[0.337,0.323],[0.355,0.323],[0.37,0.304],[0.33,0.305],[0.332,0.291],[0.284,0.283],[0.311,0.263],[0.282,0.257],[0.299,0.23],[0.307,0.219],[0.269,0.219],[0.323,0.216],[0.348,0.214],[0.367,0.216],[0.383,0.214],[0.358,0.208],[0.338,0.206],[0.321,0.206],[0.313,0.186],[0.33,0.181],[0.347,0.184],[0.373,0.206],[0.381,0.196],[0.396,0.197],[0.408,0.2],[0.416,0.201],[0.414,0.179],[0.387,0.178],[0.374,0.174],[0.351,0.159],[0.309,0.152],[0.295,0.153],[0.268,0.156],[0.268,0.148],[0.256,0.151],[0.236,0.107],[0.271,0.106],[0.302,0.108],[0.246,0.12],[0.255,0.125],[0.178,0.079],[0.173,0.068],[0.156,0.071],[0.144,0.065],[0.144,0.079],[0.126,0.054],[0.107,0.057],[0.115,0.015],[0.124,0.013],[0.131,0.017],[0.093,0.013],[0.373,0.277],[0.375,0.283],[0.366,0.248],[0.373,0.259],[0.397,0.296],[0.41,0.296],[0.387,0.244],[0.402,0.241],[0.387,0.23],[0.408,0.223],[0.418,0.225],[0.428,0.226],[0.443,0.233],[0.426,0.211],[0.441,0.211],[0.33,0.262],[0.334,0.261],[0.417,0.276],[0.417,0.254],[0.435,0.271],[0.4,0.263],[0.406,0.266],[0.459,0.25],[0.476,0.244],[0.481,0.244],[0.489,0.259],[0.511,0.267],[0.489,0.222],[0.502,0.219],[0.473,0.208],[0.42,0.406],[0.444,0.409],[0.437,0.393],[0.453,0.39],[0.473,0.395],[0.449,0.368],[0.41,0.353],[0.418,0.337],[0.451,0.334],[0.433,0.32],[0.444,0.315]];

const kdeE = [
[[0,0],[0,0.06],[0.03,0.09],[0.07,0.1],[0.08,0.06],[0.055,0],[0,0]],
[[0,0],[0,0.05],[0.03,0.075],[0.055,0.065],[0.05,0.02],[0.04,0]],
[[0,0],[0,0.04],[0.025,0.06],[0.047,0.052],[0.042,0.02],[0.036,0]],
[[0,0],[0,0.035],[0.025,0.056],[0.042,0.048],[0.037,0.015],[0.03,0]],
[[0,0],[0,0.025],[0.02,0.05],[0.037,0.043],[0.032,0.012],[0.024,0]]];
const kdeF = [
[[0,0],[0.012,0.04],[0.04,0.08],[0.1,0.125],[0.17,0.172],[0.195,0.17],[0.19,0.158],[0.12,0.105],[0.13,0.08],[0.125,0.065],[0.1,0.05],[0.08,0.02],[0.06,0]],
[[0,0],[0.012,0.035],[0.04,0.07],[0.09,0.12],[0.13,0.145],[0.125,0.11],[0.1,0.07],[0.07,0.03],[0.05,0.005]],
[[0,0],[0.012,0.03],[0.03,0.055],[0.055,0.06],[0.065,0.04],[0.055,0.015],[0.04,0]],
[[0,0],[0.012,0.025],[0.03,0.05],[0.05,0.052],[0.058,0.035],[0.05,0.012],[0.038,0]],
[[0,0],[0.01,0.022],[0.03,0.045],[0.05,0.048],[0.055,0.03],[0.045,0.01],[0.03,0]]];
const kdeG = [
[[0,0],[0,0.03],[0.02,0.055],[0.05,0.085],[0.075,0.085],[0.07,0.05],[0.05,0.01],[0.035,0]],
[[0,0],[0,0.03],[0.02,0.05],[0.04,0.07],[0.06,0.065],[0.045,0.03],[0.03,0]],
[[0,0],[0,0.025],[0.02,0.05],[0.037,0.05],[0.035,0.03],[0.025,0]],
[[0,0],[0,0.022],[0.018,0.047],[0.034,0.047],[0.03,0.025],[0.022,0]],
[[0,0],[0,0.02],[0.015,0.043],[0.03,0.044],[0.027,0.022],[0.018,0]]];

/* ---------- density colourbar ---------- */
const densityColors = ['#0055ff','#00a8ff','#00e6ff','#00f0f0','#00ffaa','#33ff22','#88ff00','#c4ff00','#ffff00','#ffd800','#ffaa00','#ff7700','#ff2211','#ff0000','#cc0000','#aa0000','#990000','#660000','#880077','#880066'];
const densityTicks = [0,0.02,0.04,0.06,0.08,0.10];
const densityTickLabels = ['0.00','0.02','0.04','0.06','0.08','0.10'];

/* ---------- panel (h) ---------- */
const perfXTicks = [0,0.2,0.4,0.6,0.8,1.0];
const perfXLabels = ['0.0','0.2','0.4','0.6','0.8','1.0'];
const perfRows = ['MIDAS','CAMS','MERRA2'];
const perfRedBars = [0.71,0.75,0.83];
const perfBlue = 0.807;
const perfPurple = 0.9;
const perfOrange = 0.91;
const lettersMidas = [['f',.254,2.72,38],['d',.529,2.85,38],['c',.600,2.83,54],['k',.633,2.61,42],['j',.648,2.59,32],['l',.691,2.54,38],['p',.768,2.80,38],['n',.812,2.75,58],['i',.765,2.50,38],['b',.521,2.42,38],['e',.571,2.47,54],['o',.590,2.38,54],['a',.604,2.34,54],['m',.652,2.10,28],['g',.833,2.28,38],['h',.863,2.17,42]];
const lettersCams = [['f',.383,1.72,38],['d',.574,1.85,38],['c',.632,1.83,54],['k',.662,1.62,42],['j',.671,1.60,32],['e',.679,1.48,54],['p',.736,1.81,38],['n',.881,1.74,58],['i',.780,1.50,38],['l',.847,1.54,38],['b',.583,1.41,38],['o',.626,1.38,54],['a',.640,1.34,54],['m',.695,1.11,28],['g',.845,1.27,38],['h',.861,1.16,42]];
const lettersMerra = [['f',.278,.72,38],['d',.604,.85,38],['c',.678,.83,54],['k',.717,.61,42],['j',.735,.58,32],['e',.715,.46,54],['l',.770,.53,38],['p',.816,.80,38],['n',.874,.75,58],['i',.846,.50,38],['b',.598,.41,38],['o',.649,.38,54],['a',.682,.34,54],['m',.762,.10,28],['g',.936,.28,38],['h',.942,.17,42]];

/* ---------- helpers ---------- */
const NS = 'http://www.w3.org/2000/svg';
function mk(parent, tag, attrs, name, interact) {
  const el = document.createElementNS(NS, tag);
  for (const k in attrs) el.setAttribute(k, attrs[k]);
  
  
  parent.appendChild(el);
  return el;
}
function label(parent, x, y, str, size, anchor, name, extra) {
  const attrs = Object.assign({x:x, y:y, 'font-size':size, 'text-anchor':anchor, 'dominant-baseline':'central'}, extra || {});
  const el = mk(parent, 'text', attrs, name, false);
  el.textContent = str;
  return el;
}
function smooth(pts) {
  const n = pts.length;
  let d = 'M' + pts[0][0].toFixed(1) + ' ' + pts[0][1].toFixed(1);
  for (let i = 0; i < n; i++) {
    const p0 = pts[(i - 1 + n) % n], p1 = pts[i], p2 = pts[(i + 1) % n], p3 = pts[(i + 2) % n];
    const c1x = p1[0] + (p2[0] - p0[0]) / 6, c1y = p1[1] + (p2[1] - p0[1]) / 6;
    const c2x = p2[0] - (p3[0] - p1[0]) / 6, c2y = p2[1] - (p3[1] - p1[1]) / 6;
    d += 'C' + c1x.toFixed(1) + ' ' + c1y.toFixed(1) + ' ' + c2x.toFixed(1) + ' ' + c2y.toFixed(1) + ' ' + p2[0].toFixed(1) + ' ' + p2[1].toFixed(1);
  }
  return d + 'Z';
}
function polyline(pts) {
  return 'M' + pts.map(p => p[0].toFixed(1) + ' ' + p[1].toFixed(1)).join('L');
}
function addClip(id, x, y, w, h) {
  const c = document.createElementNS(NS, 'clipPath');
  c.setAttribute('id', id);
  const r = document.createElementNS(NS, 'rect');
  r.setAttribute('x', x); r.setAttribute('y', y); r.setAttribute('width', w); r.setAttribute('height', h);
  c.appendChild(r);
  document.getElementById('defs').appendChild(c);
}

/* ---------- maps ---------- */
const MAP_L = 106, MAP_R = 1212;
function drawMap(groupId, top, bottom, field, region) {
  const g = document.getElementById(groupId);
  const lonX = lon => MAP_L + (lon + 180) * (MAP_R - MAP_L) / 360;
  const latY = lat => top + (90 - lat) * (bottom - top) / 160;
  addClip(groupId + '-clip', MAP_L, top, MAP_R - MAP_L, bottom - top);
  const inner = mk(g, 'g', {'clip-path': 'url(#' + groupId + '-clip)'}, 'map-plot-area', false);
  field.forEach(band => {
    const pts = band[1].map(p => [lonX(p[0]), latY(p[1])]);
    const fill = band[0] === -1 ? '#ffffff' : (band[0] === -2 ? '#ffffd2' : levelColors[band[0]]);
    mk(inner, 'path', {d: smooth(pts), fill: fill}, 'contour-band', false);
  });
  coastlines.forEach(line => {
    const pts = line.map(p => [lonX(p[0]), latY(p[1])]);
    mk(inner, 'path', {d: polyline(pts), fill: 'none', stroke: '#000', 'stroke-width': 3, 'stroke-linejoin': 'round'}, 'coastline', false);
  });
  if (region) {
    mk(g, 'rect', {x: lonX(region[0]), y: latY(region[3]), width: lonX(region[1]) - lonX(region[0]), height: latY(region[2]) - latY(region[3]), fill: 'none', stroke: '#000', 'stroke-width': 5, 'stroke-dasharray': '26 8 6 8'}, 'study-region-box', false);
  }
  mk(g, 'rect', {x: MAP_L, y: top, width: MAP_R - MAP_L, height: bottom - top, fill: 'none', stroke: '#000', 'stroke-width': 2.8}, 'map-frame', false);
  lonTicks.forEach((lon, i) => {
    const x = lonX(lon);
    mk(g, 'line', {x1: x, x2: x, y1: top - 8, y2: top, stroke: '#000', 'stroke-width': 2}, 'lon-tick-top', false);
    mk(g, 'line', {x1: x, x2: x, y1: bottom, y2: bottom + 8, stroke: '#000', 'stroke-width': 2}, 'lon-tick-bottom', false);
    const txt = lonTickLabels[i];
    const off = txt.indexOf('°') >= 0 ? -7 : (txt === '0' ? -2 : 0);
    label(g, x + off, bottom + 36, txt, 26, 'middle', 'lon-tick-label');
  });
  latTicks.forEach((lat, i) => {
    const y = latY(lat);
    mk(g, 'line', {x1: MAP_L - 11, x2: MAP_L, y1: y, y2: y, stroke: '#000', 'stroke-width': 2}, 'lat-tick-left', false);
    mk(g, 'line', {x1: MAP_R, x2: MAP_R + 10, y1: y, y2: y, stroke: '#000', 'stroke-width': 2}, 'lat-tick-right', false);
    label(g, 79, lat === 90 ? y + 3 : y, latTickLabels[i], 26, 'end', 'lat-tick-label');
  });
}
drawMap('map-a', 72.5, 601, fieldMidas, studyRegion);
drawMap('map-b', 741, 1269.5, fieldCams, null);
drawMap('map-c', 1410, 1938, fieldMerra, null);
drawMap('map-d', 2076, 2604.5, fieldAmip, null);

/* ---------- scatter panels ---------- */
const SC_L = 1379, SC_R = 2026;
function drawScatter(groupId, top, bottom, yTitle, cloud, points, kde, reg) {
  const g = document.getElementById(groupId);
  const xs = v => SC_L + v / 0.8 * (SC_R - SC_L);
  const ys = v => bottom - v / 0.8 * (bottom - top);
  addClip(groupId + '-clip', SC_L, top, SC_R - SC_L, bottom - top);
  const inner = mk(g, 'g', {'clip-path': 'url(#' + groupId + '-clip)'}, 'scatter-plot-area', false);
  const band = [[0,0],[0.4,0.8],[0.8,0.8],[0.8,0.4]];
  mk(inner, 'path', {d: polyline(band.map(p => [xs(p[0]), ys(p[1])])) + 'Z', fill: '#d9d9d9'}, 'factor-of-two-band', false);
  mk(inner, 'path', {d: smooth(cloud.map(p => [xs(p[0]), ys(p[1])])), fill: '#0055ff'}, 'dense-point-cloud', false);
  points.forEach(p => {
    mk(inner, 'circle', {cx: xs(p[0]), cy: ys(p[1]), r: 5.2, fill: '#0055ff'}, 'scatter-point', false);
  });
  kde.forEach((ring, i) => {
    mk(inner, 'path', {d: smooth(ring.map(p => [xs(p[0]), ys(p[1])])), fill: kdeColors[i]}, 'density-contour', false);
  });
  mk(inner, 'line', {x1: xs(0), y1: ys(0), x2: xs(0.8), y2: ys(0.8), stroke: '#000', 'stroke-width': 2.8}, 'one-to-one-line', false);
  mk(inner, 'line', {x1: xs(0), y1: ys(reg[1]), x2: xs(0.8), y2: ys(reg[0] * 0.8 + reg[1]), stroke: '#ff0000', 'stroke-width': 2.8}, 'regression-line', false);
  mk(g, 'rect', {x: SC_L, y: top, width: SC_R - SC_L, height: bottom - top, fill: 'none', stroke: '#000', 'stroke-width': 2.6}, 'scatter-frame', false);
  axisTicks.forEach((t, i) => {
    const x = xs(t), y = ys(t);
    mk(g, 'line', {x1: x, x2: x, y1: bottom, y2: bottom + 10, stroke: '#000', 'stroke-width': 2.2}, 'x-tick-bottom', false);
    mk(g, 'line', {x1: x, x2: x, y1: top - 10, y2: top, stroke: '#000', 'stroke-width': 2.2}, 'x-tick-top', false);
    mk(g, 'line', {x1: SC_L - 10, x2: SC_L, y1: y, y2: y, stroke: '#000', 'stroke-width': 2.2}, 'y-tick-left', false);
    mk(g, 'line', {x1: SC_R, x2: SC_R + 10, y1: y, y2: y, stroke: '#000', 'stroke-width': 2.2}, 'y-tick-right', false);
    label(g, x, bottom + 35, axisTickLabels[i], 28, 'middle', 'x-tick-label');
    label(g, 1355, y, axisTickLabels[i], 28, 'end', 'y-tick-label');
  });
  label(g, (SC_L + SC_R) / 2, bottom + 77, 'AMIP MEM', 31.5, 'middle', 'x-axis-title');
  const cy = (top + bottom) / 2;
  label(g, 1282, cy, yTitle, 31.5, 'middle', 'y-axis-title', {transform: 'rotate(-90 1282 ' + cy + ')'});
}
drawScatter('sc-e', 73, 573, 'MIDAS', cloudE, pointsE, kdeE, regressionE);
drawScatter('sc-f', 740, 1241.5, 'CAMS', cloudF, pointsF, kdeF, regressionF);
drawScatter('sc-g', 1408.5, 1893, 'MERRA2', cloudG, pointsG, kdeG, regressionG);

/* ---------- main colourbar ---------- */
(function () {
  const g = document.getElementById('cbar-main');
  const L = 199, R = 1119, T = 2675, B = 2717, tipL = 80, tipR = 1238;
  const n = levelLabels.length - 1, w = (R - L) / n;
  mk(g, 'path', {d: 'M' + L + ' ' + T + 'L' + tipL + ' ' + (T + B) / 2 + 'L' + L + ' ' + B + 'Z', fill: '#fff', stroke: '#000', 'stroke-width': 2}, 'colorbar-low-extension', false);
  mk(g, 'path', {d: 'M' + R + ' ' + T + 'L' + tipR + ' ' + (T + B) / 2 + 'L' + R + ' ' + B + 'Z', fill: levelColors[8], stroke: '#000', 'stroke-width': 1}, 'colorbar-high-extension', false);
  for (let i = 0; i < n; i++) {
    mk(g, 'rect', {x: L + i * w, y: T, width: w, height: B - T, fill: levelColors[i], stroke: '#000', 'stroke-width': 1.6}, 'colorbar-segment', false);
  }
  levelLabels.forEach((t, i) => {
    label(g, L + i * w, 2753, t, 30.5, 'middle', 'colorbar-label');
  });
})();

/* ---------- density colourbar ---------- */
(function () {
  const g = document.getElementById('cbar-den');
  const L = 1379, R = 1995, T = 2013.5, B = 2034.5, tip = 2030;
  const w = (R - L) / densityColors.length;
  densityColors.forEach((c, i) => {
    mk(g, 'rect', {x: L + i * w, y: T, width: w + 0.5, height: B - T, fill: c}, 'density-colorbar-segment', false);
  });
  mk(g, 'path', {d: 'M' + R + ' ' + T + 'L' + tip + ' ' + (T + B) / 2 + 'L' + R + ' ' + B + 'Z', fill: '#1a1a1a'}, 'density-colorbar-extension', false);
  mk(g, 'rect', {x: L, y: T, width: R - L, height: B - T, fill: 'none', stroke: '#000', 'stroke-width': 2}, 'density-colorbar-frame', false);
  densityTicks.forEach((t, i) => {
    const x = L + t / 0.1 * (R - L);
    mk(g, 'line', {x1: x, x2: x, y1: B, y2: B + 10, stroke: '#000', 'stroke-width': 2}, 'density-colorbar-tick', false);
    label(g, x, 2071, densityTickLabels[i], 31, 'middle', 'density-colorbar-label');
  });
})();

/* ---------- model performance panel ---------- */
(function () {
  const g = document.getElementById('perf');
  const L = 1359, R = 2026, T = 2188, B = 2689;
  const xs = v => L + v * (R - L);
  const ys = v => B - v / 3 * (B - T);
  addClip('perf-clip', L, T, R - L, B - T);
  const inner = mk(g, 'g', {'clip-path': 'url(#perf-clip)'}, 'performance-plot-area', false);
  [lettersMidas, lettersCams, lettersMerra].forEach(list => {
    list.forEach(d => {
      const t = mk(inner, 'text', {x: xs(d[1]), y: ys(d[2]), 'font-size': d[3], 'font-style': 'italic', 'text-anchor': 'middle', 'dominant-baseline': 'middle'}, 'model-letter-' + d[0], false);
      t.textContent = d[0];
    });
  });
  perfRedBars.forEach((v, i) => {
    mk(inner, 'rect', {x: xs(v) - 4.7, y: ys(3 - i), width: 9.4, height: ys(2 - i) - ys(3 - i), fill: '#ff0000'}, 'reanalysis-score-bar', false);
  });
  mk(inner, 'rect', {x: xs(perfBlue) - 3.2, y: T, width: 6.4, height: B - T, fill: '#1f77b4'}, 'mem-score-line', false);
  mk(inner, 'rect', {x: xs(perfOrange) - 2, y: T, width: 4, height: B - T, fill: '#ff7f0e'}, 'orange-score-line', false);
  mk(inner, 'rect', {x: xs(perfPurple) - 3.2, y: T, width: 6.4, height: B - T, fill: '#9467bd'}, 'purple-score-line', false);
  [1, 2].forEach(v => {
    mk(g, 'line', {x1: L, x2: R, y1: ys(v), y2: ys(v), stroke: '#000', 'stroke-width': 2, 'stroke-dasharray': '14 4 3 4'}, 'row-separator', false);
  });
  mk(g, 'rect', {x: L, y: T, width: R - L, height: B - T, fill: 'none', stroke: '#000', 'stroke-width': 2.6}, 'performance-frame', false);
  perfXTicks.forEach((t, i) => {
    const x = xs(t);
    mk(g, 'line', {x1: x, x2: x, y1: B, y2: B + 10, stroke: '#000', 'stroke-width': 2.2}, 'x-tick-bottom', false);
    mk(g, 'line', {x1: x, x2: x, y1: T - 10, y2: T, stroke: '#000', 'stroke-width': 2.2}, 'x-tick-top', false);
    label(g, x, 2725, perfXLabels[i], 30, 'middle', 'x-tick-label');
  });
  perfRows.forEach((row, i) => {
    const y = ys(2.5 - i);
    mk(g, 'line', {x1: L - 10, x2: L, y1: y, y2: y, stroke: '#000', 'stroke-width': 2.2}, 'y-tick-left', false);
    mk(g, 'line', {x1: R, x2: R + 10, y1: y, y2: y, stroke: '#000', 'stroke-width': 2.2}, 'y-tick-right', false);
    label(g, 1319, y, row, 30.5, 'middle', 'row-label', {transform: 'rotate(-90 1319 ' + y + ')'});
  });
})();
</script>
</body>
</html>
